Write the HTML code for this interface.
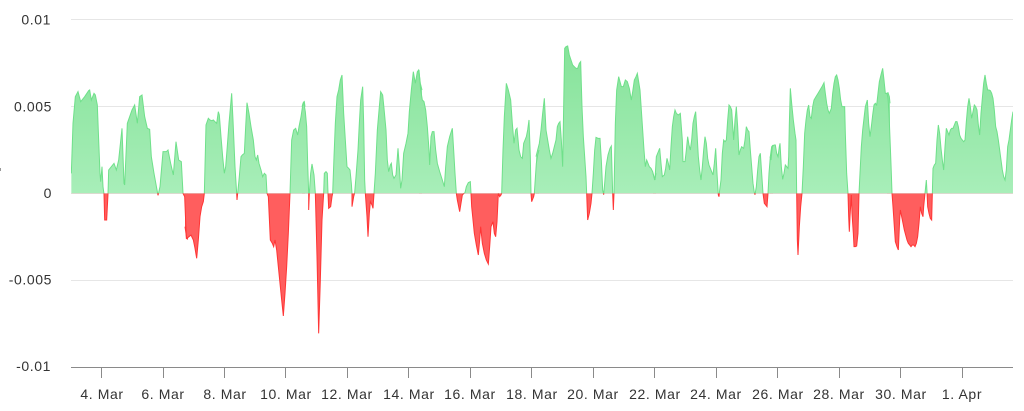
<!DOCTYPE html>
<html><head><meta charset="utf-8"><style>
html,body{margin:0;padding:0;background:#fff;}
svg{display:block;}
text{font-family:"Liberation Sans",sans-serif;font-size:14px;fill:#333;letter-spacing:0.6px;}
</style></head><body>
<svg width="1024" height="411" viewBox="0 0 1024 411" xmlns="http://www.w3.org/2000/svg" xmlns:xlink="http://www.w3.org/1999/xlink">
<defs>
<linearGradient id="gg" gradientUnits="userSpaceOnUse" x1="0" y1="0" x2="0" y2="460">
<stop offset="0" stop-color="#84e298"/><stop offset="1" stop-color="#a8eeb9"/>
</linearGradient>
<clipPath id="cg"><rect x="71" y="0" width="942" height="193.33"/></clipPath>
<clipPath id="cr"><rect x="71" y="193.33" width="942" height="200"/></clipPath>

<path id="fA" transform="translate(68,40) scale(0.333333)" d="M10,460 L10,400 15,250 22,170 30,155 38,185 50,170 62,152 65,150 70,180 78,160 82,165 88,195 92,300 96,400 98,425 102,380 105,440 108,462 110,540 116,540 120,462 122,390 130,380 138,370 145,390 152,360 162,265 168,430 170,435 178,250 185,230 192,210 200,195 208,250 215,170 222,165 230,230 238,265 245,268 250,350 258,400 268,455 270,466 272,458 276,440 285,335 295,335 300,330 308,370 316,405 324,305 332,360 340,365 345,460 350,470 355,595 360,598 L360,460 Z"/>
<path id="lA" vector-effect="non-scaling-stroke" transform="translate(68,40) scale(0.333333)" d="M10,400 L15,250 22,170 30,155 38,185 50,170 62,152 65,150 70,180 78,160 82,165 88,195 92,300 96,400 98,425 102,380 105,440 108,462 110,540 116,540 120,462 122,390 130,380 138,370 145,390 152,360 162,265 168,430 170,435 178,250 185,230 192,210 200,195 208,250 215,170 222,165 230,230 238,265 245,268 250,350 258,400 268,455 270,466 272,458 276,440 285,335 295,335 300,330 308,370 316,405 324,305 332,360 340,365 345,460 350,470 355,595 360,598"/>

<path id="fB" transform="translate(185,40) scale(0.333333)" d="M0,460 L0,560 5,595 12,590 18,585 25,600 30,625 35,655 40,600 45,530 50,500 55,485 58,460 63,255 70,235 75,240 80,242 85,240 90,245 95,250 100,215 103,225 108,290 113,350 118,400 122,380 126,330 132,250 140,160 144,240 150,380 155,460 156,480 158,460 162,420 168,350 172,345 178,340 182,260 186,188 192,220 198,260 205,300 210,350 214,360 218,345 222,370 228,390 233,410 238,400 243,405 246,460 250,470 256,600 262,610 266,620 270,600 275,630 280,680 286,740 290,780 295,828 300,760 305,680 310,580 315,460 320,300 326,270 332,265 338,285 342,260 348,230 354,190 358,185 360,200 L360,460 Z"/>
<path id="lB" vector-effect="non-scaling-stroke" transform="translate(185,40) scale(0.333333)" d="M0,560 L5,595 12,590 18,585 25,600 30,625 35,655 40,600 45,530 50,500 55,485 58,460 63,255 70,235 75,240 80,242 85,240 90,245 95,250 100,215 103,225 108,290 113,350 118,400 122,380 126,330 132,250 140,160 144,240 150,380 155,460 156,480 158,460 162,420 168,350 172,345 178,340 182,260 186,188 192,220 198,260 205,300 210,350 214,360 218,345 222,370 228,390 233,410 238,400 243,405 246,460 250,470 256,600 262,610 266,620 270,600 275,630 280,680 286,740 290,780 295,828 300,760 305,680 310,580 315,460 320,300 326,270 332,265 338,285 342,260 348,230 354,190 358,185 360,200"/>

<path id="fC" transform="translate(302,40) scale(0.333333)" d="M0,460 L0,200 5,185 10,215 14,260 17,370 20,460 20,510 22,460 26,400 30,372 36,405 40,460 45,650 50,880 55,720 60,540 65,460 67,400 72,395 76,400 78,460 80,505 86,500 90,470 92,460 96,350 100,250 105,170 110,150 115,120 120,105 125,220 130,300 135,380 140,385 144,390 148,430 150,460 150,500 155,470 158,458 162,410 168,330 172,250 176,180 182,140 185,250 188,420 190,460 195,530 198,590 202,520 205,485 210,495 213,505 216,460 220,400 226,270 232,200 236,155 242,165 246,205 252,270 256,360 260,395 265,375 268,370 272,405 276,415 282,405 288,325 292,380 296,445 300,420 305,340 312,310 318,280 322,215 328,150 334,95 340,130 346,95 350,90 355,130 360,150 L360,460 Z"/>
<path id="lC" vector-effect="non-scaling-stroke" transform="translate(302,40) scale(0.333333)" d="M0,200 L5,185 10,215 14,260 17,370 20,460 20,510 22,460 26,400 30,372 36,405 40,460 45,650 50,880 55,720 60,540 65,460 67,400 72,395 76,400 78,460 80,505 86,500 90,470 92,460 96,350 100,250 105,170 110,150 115,120 120,105 125,220 130,300 135,380 140,385 144,390 148,430 150,460 150,500 155,470 158,458 162,410 168,330 172,250 176,180 182,140 185,250 188,420 190,460 195,530 198,590 202,520 205,485 210,495 213,505 216,460 220,400 226,270 232,200 236,155 242,165 246,205 252,270 256,360 260,395 265,375 268,370 272,405 276,415 282,405 288,325 292,380 296,445 300,420 305,340 312,310 318,280 322,215 328,150 334,95 340,130 346,95 350,90 355,130 360,150"/>

<path id="fD" transform="translate(419,40) scale(0.333333)" d="M0,460 L0,90 5,150 10,180 15,185 20,210 25,260 30,330 32,375 36,290 40,275 45,275 50,330 55,370 62,395 70,420 76,440 80,380 85,320 92,290 100,265 104,330 108,400 112,460 115,480 122,515 126,490 130,465 135,460 138,458 142,440 148,428 154,425 156,460 158,500 162,540 166,580 172,615 178,645 182,600 185,560 190,610 196,640 202,660 208,672 212,620 216,560 222,545 226,580 230,590 234,545 238,460 242,470 246,465 248,460 252,330 256,230 262,130 268,150 275,180 280,250 285,310 290,270 294,265 300,330 305,350 310,355 314,310 318,300 322,290 326,270 330,240 334,350 336,460 338,485 344,470 346,460 352,370 356,345 360,330 L360,460 Z"/>
<path id="lD" vector-effect="non-scaling-stroke" transform="translate(419,40) scale(0.333333)" d="M0,90 L5,150 10,180 15,185 20,210 25,260 30,330 32,375 36,290 40,275 45,275 50,330 55,370 62,395 70,420 76,440 80,380 85,320 92,290 100,265 104,330 108,400 112,460 115,480 122,515 126,490 130,465 135,460 138,458 142,440 148,428 154,425 156,460 158,500 162,540 166,580 172,615 178,645 182,600 185,560 190,610 196,640 202,660 208,672 212,620 216,560 222,545 226,580 230,590 234,545 238,460 242,470 246,465 248,460 252,330 256,230 262,130 268,150 275,180 280,250 285,310 290,270 294,265 300,330 305,350 310,355 314,310 318,300 322,290 326,270 330,240 334,350 336,460 338,485 344,470 346,460 352,370 356,345 360,330"/>

<path id="fE" transform="translate(536,40) scale(0.333333)" d="M0,460 L0,350 5,330 10,310 15,270 20,220 25,175 30,270 35,300 40,330 45,355 50,340 55,320 60,300 64,260 68,250 72,245 76,300 80,380 84,140 86,25 90,20 95,18 100,45 105,60 110,75 115,80 120,85 125,85 130,70 134,65 138,200 142,290 146,350 150,410 152,460 155,540 160,520 165,490 168,460 172,400 176,330 180,292 186,295 192,295 196,360 200,450 203,464 206,430 210,380 216,345 222,325 226,318 230,460 232,510 234,460 238,250 242,150 248,110 252,125 256,140 262,140 268,120 274,125 280,145 286,180 290,155 295,120 300,110 304,100 308,125 312,150 316,210 320,270 324,330 328,380 332,360 336,370 340,380 345,385 350,395 356,420 360,400 L360,460 Z"/>
<path id="lE" vector-effect="non-scaling-stroke" transform="translate(536,40) scale(0.333333)" d="M0,350 L5,330 10,310 15,270 20,220 25,175 30,270 35,300 40,330 45,355 50,340 55,320 60,300 64,260 68,250 72,245 76,300 80,380 84,140 86,25 90,20 95,18 100,45 105,60 110,75 115,80 120,85 125,85 130,70 134,65 138,200 142,290 146,350 150,410 152,460 155,540 160,520 165,490 168,460 172,400 176,330 180,292 186,295 192,295 196,360 200,450 203,464 206,430 210,380 216,345 222,325 226,318 230,460 232,510 234,460 238,250 242,150 248,110 252,125 256,140 262,140 268,120 274,125 280,145 286,180 290,155 295,120 300,110 304,100 308,125 312,150 316,210 320,270 324,330 328,380 332,360 336,370 340,380 345,385 350,395 356,420 360,400"/>

<path id="fF" transform="translate(653,40) scale(0.333333)" d="M0,460 L0,400 3,410 6,420 10,350 16,335 20,325 24,370 28,410 34,405 38,385 42,355 46,370 50,390 54,320 58,260 62,230 66,210 70,220 76,225 82,220 88,300 90,365 96,365 100,330 104,290 108,315 112,330 116,300 120,250 124,230 128,215 132,280 136,350 140,390 144,420 148,380 152,330 156,290 160,310 164,355 168,375 172,385 176,395 180,405 184,370 188,325 192,400 196,465 198,470 200,450 204,420 208,340 212,300 216,305 220,300 224,240 228,195 232,200 236,210 240,270 242,300 246,240 250,200 254,260 258,345 262,330 266,320 272,325 276,300 280,260 284,270 288,275 292,330 296,380 300,430 304,458 306,464 310,440 314,390 318,350 322,340 326,400 330,460 334,490 338,495 342,500 345,460 348,400 352,350 356,320 360,315 L360,460 Z"/>
<path id="lF" vector-effect="non-scaling-stroke" transform="translate(653,40) scale(0.333333)" d="M0,400 L3,410 6,420 10,350 16,335 20,325 24,370 28,410 34,405 38,385 42,355 46,370 50,390 54,320 58,260 62,230 66,210 70,220 76,225 82,220 88,300 90,365 96,365 100,330 104,290 108,315 112,330 116,300 120,250 124,230 128,215 132,280 136,350 140,390 144,420 148,380 152,330 156,290 160,310 164,355 168,375 172,385 176,395 180,405 184,370 188,325 192,400 196,465 198,470 200,450 204,420 208,340 212,300 216,305 220,300 224,240 228,195 232,200 236,210 240,270 242,300 246,240 250,200 254,260 258,345 262,330 266,320 272,325 276,300 280,260 284,270 288,275 292,330 296,380 300,430 304,458 306,464 310,440 314,390 318,350 322,340 326,400 330,460 334,490 338,495 342,500 345,460 348,400 352,350 356,320 360,315"/>

<path id="fG" transform="translate(770,40) scale(0.333333)" d="M0,460 L0,350 3,360 7,320 12,315 16,315 20,340 24,350 28,320 30,310 34,380 38,418 42,400 46,375 50,380 54,385 56,350 58,250 61,145 65,190 70,240 75,280 78,300 80,460 82,600 84,645 88,560 92,500 96,460 100,380 104,280 108,240 112,210 116,195 120,230 124,235 128,200 132,180 138,170 144,160 150,150 156,140 162,128 166,160 170,190 174,210 178,220 184,205 188,160 192,130 196,110 200,105 204,120 208,145 212,180 216,200 220,200 224,200 226,280 230,400 234,460 236,530 238,575 240,530 244,465 246,520 250,580 252,620 256,620 260,618 264,580 267,460 270,400 274,320 278,270 282,235 286,200 292,180 296,250 300,290 304,260 308,225 312,195 316,190 320,195 324,160 328,125 334,100 338,85 342,120 346,160 350,160 354,158 358,170 360,190 L360,460 Z"/>
<path id="lG" vector-effect="non-scaling-stroke" transform="translate(770,40) scale(0.333333)" d="M0,350 L3,360 7,320 12,315 16,315 20,340 24,350 28,320 30,310 34,380 38,418 42,400 46,375 50,380 54,385 56,350 58,250 61,145 65,190 70,240 75,280 78,300 80,460 82,600 84,645 88,560 92,500 96,460 100,380 104,280 108,240 112,210 116,195 120,230 124,235 128,200 132,180 138,170 144,160 150,150 156,140 162,128 166,160 170,190 174,210 178,220 184,205 188,160 192,130 196,110 200,105 204,120 208,145 212,180 216,200 220,200 224,200 226,280 230,400 234,460 236,530 238,575 240,530 244,465 246,520 250,580 252,620 256,620 260,618 264,580 267,460 270,400 274,320 278,270 282,235 286,200 292,180 296,250 300,290 304,260 308,225 312,195 316,190 320,195 324,160 328,125 334,100 338,85 342,120 346,160 350,160 354,158 358,170 360,190"/>

<path id="fH" transform="translate(887,40) scale(0.333333)" d="M0,460 L0,160 3,175 6,220 10,320 13,400 15,460 18,500 22,560 25,605 30,620 34,630 38,540 40,510 44,530 48,550 52,570 56,585 60,600 64,610 68,615 72,620 76,615 80,615 84,620 88,610 92,590 96,550 100,500 104,520 108,530 110,500 114,460 116,440 118,420 120,455 122,500 126,520 130,535 134,540 136,460 138,385 142,375 146,370 150,300 154,255 158,280 162,325 166,360 170,390 174,320 178,265 182,275 186,285 190,270 194,265 198,265 202,255 206,245 210,245 214,260 218,285 222,295 226,300 230,305 234,300 238,245 242,200 246,175 250,200 254,235 258,215 262,195 266,200 270,210 274,255 278,285 282,220 286,175 290,130 294,105 298,130 302,150 306,150 310,152 314,160 318,175 322,210 326,260 330,275 334,300 338,330 342,360 346,390 350,410 354,420 358,390 362,320 366,300 370,270 374,240 378,215 L378,460 Z"/>
<path id="lH" vector-effect="non-scaling-stroke" transform="translate(887,40) scale(0.333333)" d="M0,160 L3,175 6,220 10,320 13,400 15,460 18,500 22,560 25,605 30,620 34,630 38,540 40,510 44,530 48,550 52,570 56,585 60,600 64,610 68,615 72,620 76,615 80,615 84,620 88,610 92,590 96,550 100,500 104,520 108,530 110,500 114,460 116,440 118,420 120,455 122,500 126,520 130,535 134,540 136,460 138,385 142,375 146,370 150,300 154,255 158,280 162,325 166,360 170,390 174,320 178,265 182,275 186,285 190,270 194,265 198,265 202,255 206,245 210,245 214,260 218,285 222,295 226,300 230,305 234,300 238,245 242,200 246,175 250,200 254,235 258,215 262,195 266,200 270,210 274,255 278,285 282,220 286,175 290,130 294,105 298,130 302,150 306,150 310,152 314,160 318,175 322,210 326,260 330,275 334,300 338,330 342,360 346,390 350,410 354,420 358,390 362,320 366,300 370,270 374,240 378,215"/>
</defs>

<!-- gridlines -->
<g stroke="#e6e6e6" stroke-width="1">
<line x1="71" y1="19.5" x2="1013" y2="19.5"/>
<line x1="71" y1="106.5" x2="1013" y2="106.5"/>
<line x1="71" y1="193.5" x2="1013" y2="193.5"/>
<line x1="71" y1="280.5" x2="1013" y2="280.5"/>
</g>
<rect x="0" y="168" width="1" height="3" fill="#999"/>
<!-- y labels -->
<g text-anchor="end">
<text x="51" y="24.5">0.01</text>
<text x="52" y="111.5">0.005</text>
<text x="52" y="198">0</text>
<text x="52" y="284.5">-0.005</text>
<text x="51" y="371">-0.01</text>
</g>

<!-- green (positive) -->
<g clip-path="url(#cg)">
<g fill="url(#gg)" stroke="none">
<use xlink:href="#fA" href="#fA"/><use xlink:href="#fB" href="#fB"/><use xlink:href="#fC" href="#fC"/><use xlink:href="#fD" href="#fD"/>
<use xlink:href="#fE" href="#fE"/><use xlink:href="#fF" href="#fF"/><use xlink:href="#fG" href="#fG"/><use xlink:href="#fH" href="#fH"/>
</g>
<g fill="none" stroke="#6fe08a" stroke-width="1">
<use xlink:href="#lA" href="#lA"/><use xlink:href="#lB" href="#lB"/><use xlink:href="#lC" href="#lC"/><use xlink:href="#lD" href="#lD"/>
<use xlink:href="#lE" href="#lE"/><use xlink:href="#lF" href="#lF"/><use xlink:href="#lG" href="#lG"/><use xlink:href="#lH" href="#lH"/>
</g>
</g>

<!-- red (negative) -->
<g clip-path="url(#cr)">
<g fill="#ff5e5e" stroke="none">
<use xlink:href="#fA" href="#fA"/><use xlink:href="#fB" href="#fB"/><use xlink:href="#fC" href="#fC"/><use xlink:href="#fD" href="#fD"/>
<use xlink:href="#fE" href="#fE"/><use xlink:href="#fF" href="#fF"/><use xlink:href="#fG" href="#fG"/><use xlink:href="#fH" href="#fH"/>
</g>
<g fill="none" stroke="#ff3535" stroke-width="1">
<use xlink:href="#lA" href="#lA"/><use xlink:href="#lB" href="#lB"/><use xlink:href="#lC" href="#lC"/><use xlink:href="#lD" href="#lD"/>
<use xlink:href="#lE" href="#lE"/><use xlink:href="#lF" href="#lF"/><use xlink:href="#lG" href="#lG"/><use xlink:href="#lH" href="#lH"/>
</g>
</g>

<!-- x axis -->
<line x1="71" y1="367.5" x2="1013" y2="367.5" stroke="#8a8a8a" stroke-width="1"/>
<g stroke="#8a8a8a" stroke-width="1">
<line x1="101.5" y1="367" x2="101.5" y2="378"/>
<line x1="163.5" y1="367" x2="163.5" y2="378"/>
<line x1="224.5" y1="367" x2="224.5" y2="378"/>
<line x1="285.5" y1="367" x2="285.5" y2="378"/>
<line x1="347.5" y1="367" x2="347.5" y2="378"/>
<line x1="408.5" y1="367" x2="408.5" y2="378"/>
<line x1="470.5" y1="367" x2="470.5" y2="378"/>
<line x1="531.5" y1="367" x2="531.5" y2="378"/>
<line x1="593.5" y1="367" x2="593.5" y2="378"/>
<line x1="654.5" y1="367" x2="654.5" y2="378"/>
<line x1="716.5" y1="367" x2="716.5" y2="378"/>
<line x1="777.5" y1="367" x2="777.5" y2="378"/>
<line x1="839.5" y1="367" x2="839.5" y2="378"/>
<line x1="900.5" y1="367" x2="900.5" y2="378"/>
<line x1="962.5" y1="367" x2="962.5" y2="378"/>
</g>
<g text-anchor="middle">
<text x="102" y="399">4. Mar</text>
<text x="163" y="399">6. Mar</text>
<text x="225" y="399">8. Mar</text>
<text x="286" y="399">10. Mar</text>
<text x="347" y="399">12. Mar</text>
<text x="409" y="399">14. Mar</text>
<text x="470" y="399">16. Mar</text>
<text x="532" y="399">18. Mar</text>
<text x="593" y="399">20. Mar</text>
<text x="655" y="399">22. Mar</text>
<text x="716" y="399">24. Mar</text>
<text x="778" y="399">26. Mar</text>
<text x="839" y="399">28. Mar</text>
<text x="901" y="399">30. Mar</text>
<text x="962" y="399">1. Apr</text>
</g>
</svg>
</body></html>
